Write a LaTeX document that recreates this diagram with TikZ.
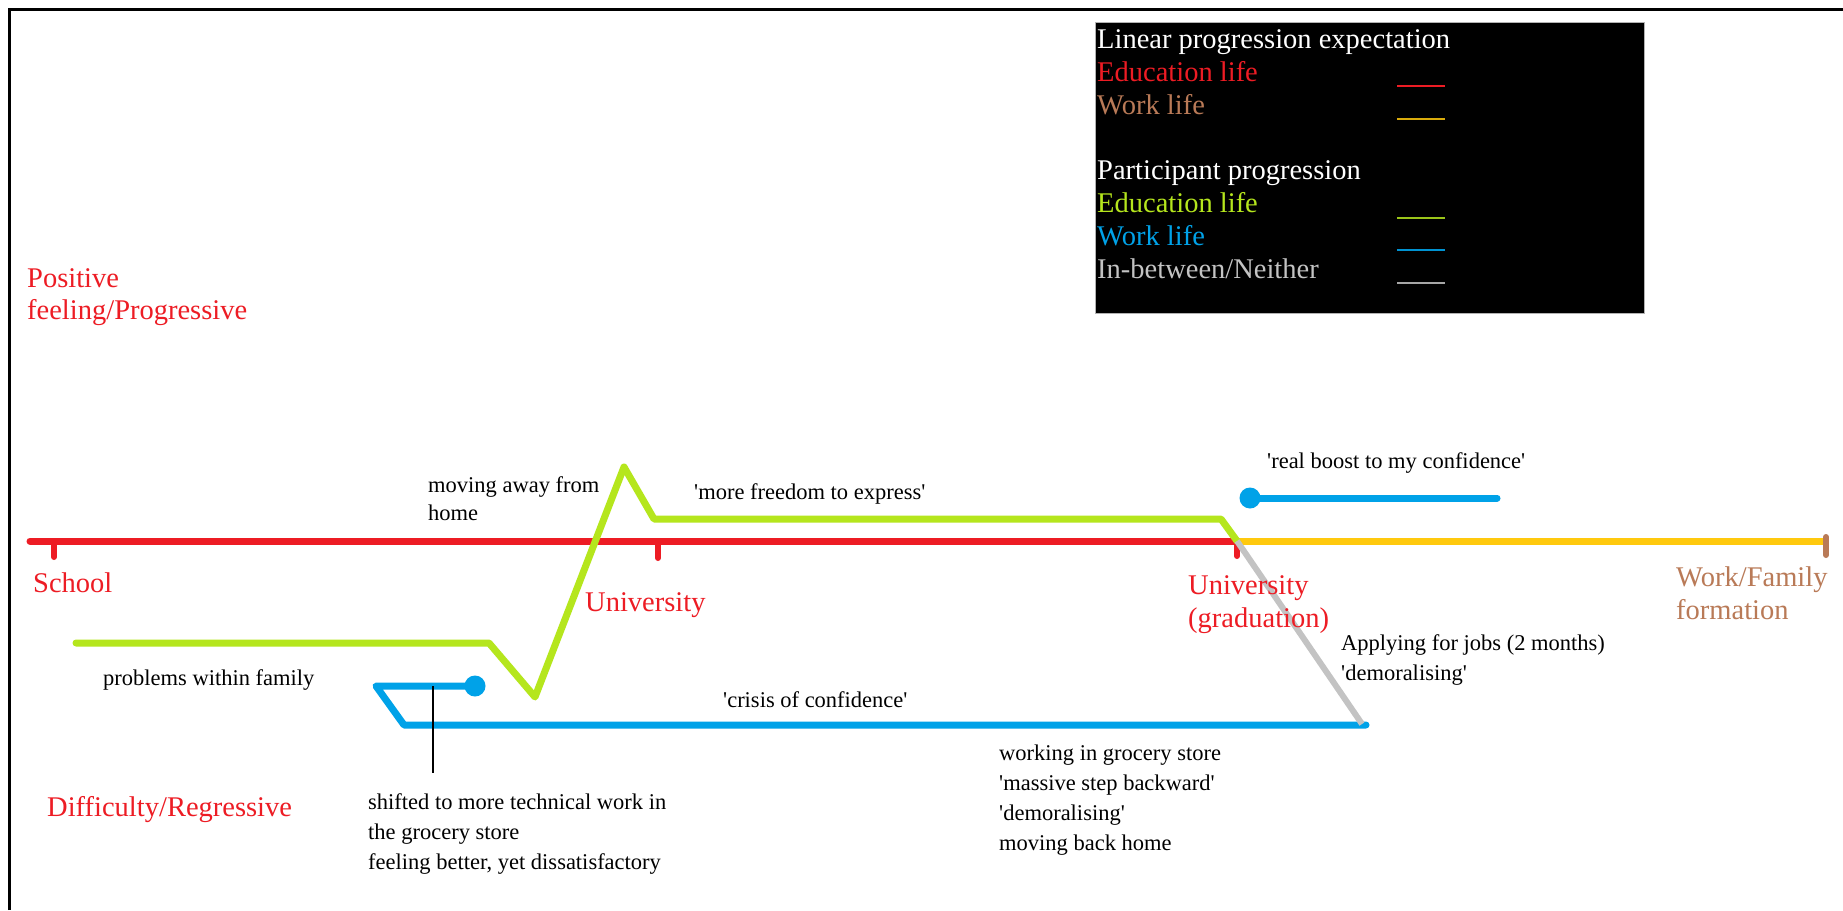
\documentclass[tikz,border=0pt]{standalone}
\usepackage{fontspec}
\setmainfont{Liberation Serif}
\newcommand{\sq}{\textquotesingle}
\definecolor{pred}{HTML}{ED1C24}
\definecolor{pyel}{HTML}{FFC90E}
\definecolor{pbrown}{HTML}{B97A57}
\definecolor{plime}{HTML}{B5E61D}
\definecolor{pblue}{HTML}{00A2E8}
\definecolor{pgray}{HTML}{C3C3C3}
\begin{document}
\begin{tikzpicture}[x=1pt,y=-1pt,
  note/.style={inner sep=0pt, align=left, text=black, font=\fontsize{22.5}{30}\selectfont},
  notetight/.style={note, font=\fontsize{22.5}{28}\selectfont},
  stage/.style={inner sep=0pt, align=left, font=\fontsize{28.5}{33}\selectfont},
  axislbl/.style={stage, font=\fontsize{28.5}{32}\selectfont, text=pred},
  keytxt/.style={inner sep=0pt, anchor=base west, font=\fontsize{28.5}{33}\selectfont},
  keyline/.style={line width=2pt},
  track/.style={line width=7pt, line join=round},
  tick/.style={line width=6pt, line cap=round},
  dot/.style={circle, inner sep=0pt, minimum size=21pt, fill=pblue}
]
\useasboundingbox (0,0) rectangle (1843,910);
\fill[white] (0,0) rectangle (1843,910);

% frame (left and top edges only)
\draw[line width=3pt, black] (9,910) -- (9,9) -- (1843,9);

% expected timeline
\coordinate (tl0) at (30,541);
\coordinate (tgrad) at (1237,541);
\coordinate (tend) at (1826,541);
\draw[track, pred, line cap=round] (tl0) -- (tgrad);
\draw[track, pyel] (tgrad) -- (tend);
\draw[tick, pred] (54,541) -- (54,557);
\draw[tick, pred] (658,541) -- (658,558);
\draw[tick, pred] (1237,541) -- (1237,556);
\draw[tick, pbrown] (1826,537) -- (1826,555);

% participant education path
\coordinate (e0) at (76,643);
\coordinate (e1) at (489,643);
\coordinate (e2) at (535,697);
\coordinate (e3) at (624,467);
\coordinate (e4) at (654,519);
\coordinate (e5) at (1221,519);
\draw[track, plime, line cap=round] (e0) -- (e1) -- (e2) -- (e3) -- (e4) -- (e5) -- (tgrad);

% participant work path
\node[dot] (w0) at (475,686) {};
\coordinate (w1) at (376,686);
\coordinate (w2) at (404,725);
\coordinate (w3) at (1366,725);
\draw[track, pblue, line cap=round] (w0.center) -- (w1) -- (w2) -- (w3);

% in-between stretch
\draw[line width=6pt, pgray] (tgrad) -- (1362,724);

% later work path
\node[dot] (w4) at (1250,498) {};
\coordinate (w5) at (1497,498);
\draw[track, pblue, line cap=round] (w4.center) -- (w5);

% pointer to the note below
\coordinate (p0) at (433,686);
\coordinate (p1) at (433,773);
\draw[line width=1.5pt, black] (p0) -- (p1);

% axis and stage labels
\node[axislbl, anchor=north west] (pos) at (27,264.6) {\strut Positive\\\strut feeling/Progressive};
\node[stage, anchor=base west, text=pred] (sch) at (33,592) {School};
\node[stage, anchor=base west, text=pred] (uni) at (585,611) {University};
\node[stage, anchor=north west, text=pred] (grad) at (1188,570.9) {\strut University\\\strut (graduation)};
\node[stage, anchor=north west, text=pbrown] (wff) at (1676,562.9) {\strut Work/Family\\\strut formation};
\node[stage, anchor=base west, text=pred] (dif) at (47,816) {Difficulty/Regressive};

% event notes
\node[notetight, anchor=north west] (n1) at (428,472.4) {\strut moving away from\\\strut home};
\node[note, anchor=base west] (n2) at (694,499) {\sq more freedom to express\sq};
\node[note, anchor=base west] (n3) at (1267,468) {\sq real boost to my confidence\sq};
\node[note, anchor=base west] (n4) at (103,685) {problems within family};
\node[note, anchor=base west] (n5) at (723,707) {\sq crisis of confidence\sq};
\node[note, anchor=north west] (n6) at (368,788) {\strut shifted to more technical work in\\\strut the grocery store\\\strut feeling better, yet dissatisfactory};
\node[note, anchor=north west] (n7) at (999,739) {\strut working in grocery store\\\strut \sq massive step backward\sq\\\strut \sq demoralising\sq\\\strut moving back home};
\node[note, anchor=north west] (n8) at (1341,629) {\strut Applying for jobs (2 months)\\\strut \sq demoralising\sq};

% key
\node[fill=black, draw=gray!60, line width=1pt, inner sep=0pt, anchor=north west, minimum width=549pt, minimum height=291pt] (key) at (1095,22) {};
\node[keytxt, text=white] (k1) at (1097,48) {Linear progression expectation};
\node[keytxt, text=pred] (k2) at (1097,81) {Education life};
\node[keytxt, text=pbrown] (k3) at (1097,114) {Work life};
\node[keytxt, text=white] (k4) at (1097,179) {Participant progression};
\node[keytxt, text=plime] (k5) at (1097,212) {Education life};
\node[keytxt, text=pblue] (k6) at (1097,245) {Work life};
\node[keytxt, text=pgray] (k7) at (1097,278) {In-between/Neither};
\draw[keyline, pred] (1397,86) -- (1445,86);
\draw[keyline, pyel!85!black] (1397,119) -- (1445,119);
\draw[keyline, plime!85!black] (1397,218) -- (1445,218);
\draw[keyline, pblue!90!black] (1397,250) -- (1445,250);
\draw[keyline, pgray!85!black] (1397,283) -- (1445,283);
\end{tikzpicture}
\end{document}
